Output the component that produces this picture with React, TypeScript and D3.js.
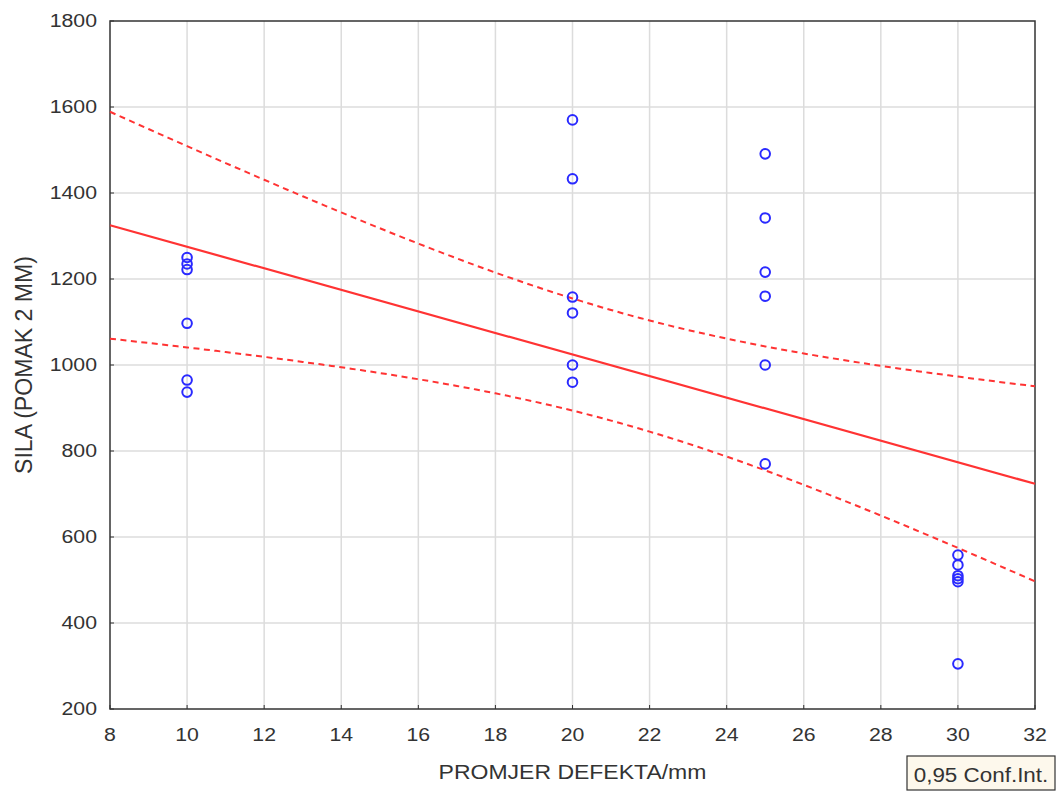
import React, { useRef, useEffect } from "react";
import * as d3 from "d3";

// measured points (defect diameter in mm, force at 2 mm displacement)
const diameters = [10, 20, 25, 30];
const forces10 = [1250, 1235, 1222, 1097, 965, 937];
const forces20 = [1570, 1433, 1158, 1121, 1000, 960];
const forces25 = [1491, 1342, 1216, 1160, 1000, 770];
const forces30 = [558, 535, 510, 503, 496, 305];

const xTicks = [8, 10, 12, 14, 16, 18, 20, 22, 24, 26, 28, 30, 32];
const yTicks = [200, 400, 600, 800, 1000, 1200, 1400, 1600, 1800];

const xTitle = "PROMJER DEFEKTA/mm";
const yTitle = "SILA (POMAK 2 MM)";
const legendText = "0,95 Conf.Int.";

const App = () => {
  const ref = useRef<SVGSVGElement>(null);

  useEffect(() => {
    document.body.style.margin = "0";
    const width = 1057, height = 791;
    const margin = { top: 21, right: 22, bottom: 82, left: 110 };
    const sx = 1.15; // text in the original is a bit wide

    const svg = d3.select(ref.current);
    svg.selectAll("*").remove();
    svg.attr("width", width).attr("height", height);

    const x = d3.scaleLinear().domain([8, 32]).range([margin.left, width - margin.right]);
    const y = d3.scaleLinear().domain([200, 1800]).range([height - margin.bottom, margin.top]);

    const groups = [forces10, forces20, forces25, forces30];
    const points: { x: number; y: number }[] = [];
    groups.forEach((g, i) => g.forEach(v => points.push({ x: diameters[i], y: v })));

    // linear fit + 95% confidence band for the mean
    const n = points.length;
    const mx = d3.mean(points, d => d.x)!;
    const my = d3.mean(points, d => d.y)!;
    const sxx = d3.sum(points, d => (d.x - mx) ** 2);
    const sxy = d3.sum(points, d => (d.x - mx) * (d.y - my));
    const b = sxy / sxx;
    const a = my - b * mx;
    const sse = d3.sum(points, d => (d.y - (a + b * d.x)) ** 2);
    const s = Math.sqrt(sse / (n - 2));
    const t = 2.074; // t(0.975, 22)
    const hw = (xv: number) => t * s * Math.sqrt(1 / n + (xv - mx) ** 2 / sxx);

    const xs = d3.range(8, 32.001, 0.25);
    const fit = (xv: number) => a + b * xv;

    const textColor = "#333";
    const font = "Liberation Sans, Arial, sans-serif";

    // grid
    svg.append("g")
      .selectAll("line")
      .data(xTicks.slice(1, -1))
      .join("line")
      .attr("x1", d => x(d)).attr("x2", d => x(d))
      .attr("y1", margin.top).attr("y2", height - margin.bottom)
      .attr("stroke", "#dcdcdc").attr("stroke-width", 1.5);
    svg.append("g")
      .selectAll("line")
      .data(yTicks.slice(1, -1))
      .join("line")
      .attr("x1", margin.left).attr("x2", width - margin.right)
      .attr("y1", d => y(d)).attr("y2", d => y(d))
      .attr("stroke", "#dcdcdc").attr("stroke-width", 1.5);

    // frame
    svg.append("rect")
      .attr("x", margin.left).attr("y", margin.top)
      .attr("width", width - margin.left - margin.right)
      .attr("height", height - margin.bottom - margin.top)
      .attr("fill", "none").attr("stroke", "#333").attr("stroke-width", 1.5);

    // inward ticks
    svg.append("g").selectAll("line").data(xTicks).join("line")
      .attr("x1", d => x(d)).attr("x2", d => x(d))
      .attr("y1", height - margin.bottom).attr("y2", height - margin.bottom - 4)
      .attr("stroke", "#333");
    svg.append("g").selectAll("line").data(yTicks).join("line")
      .attr("x1", margin.left).attr("x2", margin.left + 4)
      .attr("y1", d => y(d)).attr("y2", d => y(d))
      .attr("stroke", "#333");

    // tick labels
    svg.append("g").selectAll("text").data(xTicks).join("text")
      .attr("transform", d => `translate(${x(d)},${height - margin.bottom + 32}) scale(${sx},1)`)
      .attr("text-anchor", "middle")
      .attr("font-family", font).attr("font-size", 18.5).attr("fill", textColor)
      .text(d => d);
    svg.append("g").selectAll("text").data(yTicks).join("text")
      .attr("transform", d => `translate(${margin.left - 13},${y(d) + 6}) scale(${sx},1)`)
      .attr("text-anchor", "end")
      .attr("font-family", font).attr("font-size", 18.5).attr("fill", textColor)
      .text(d => d);

    // axis titles
    svg.append("text")
      .attr("transform", `translate(${(margin.left + width - margin.right) / 2},779) scale(${sx},1)`)
      .attr("text-anchor", "middle")
      .attr("font-family", font).attr("font-size", 20).attr("fill", textColor)
      .text(xTitle);
    svg.append("text")
      .attr("transform", `translate(32, ${(margin.top + height - margin.bottom) / 2}) scale(${sx},1) rotate(-90)`)
      .attr("text-anchor", "middle")
      .attr("font-family", font).attr("font-size", 20).attr("fill", textColor)
      .attr("textLength", 218).attr("lengthAdjust", "spacingAndGlyphs")
      .text(yTitle);

    const plot = svg.append("g");

    // confidence band
    const upper = d3.line<number>().x(d => x(d)).y(d => y(fit(d) + hw(d)));
    const lower = d3.line<number>().x(d => x(d)).y(d => y(fit(d) - hw(d)));
    [upper, lower].forEach(ln => {
      plot.append("path").attr("d", ln(xs))
        .attr("fill", "none").attr("stroke", "#ff3333").attr("stroke-width", 2)
        .attr("stroke-dasharray", "6,4.5");
    });

    // fit line
    plot.append("line")
      .attr("x1", x(8)).attr("y1", y(fit(8)))
      .attr("x2", x(32)).attr("y2", y(fit(32)))
      .attr("stroke", "#ff3333").attr("stroke-width", 2.2);

    // points
    plot.append("g").selectAll("circle").data(points).join("circle")
      .attr("cx", d => x(d.x)).attr("cy", d => y(d.y)).attr("r", 4.8)
      .attr("fill", "none").attr("stroke", "#2a2aff").attr("stroke-width", 2);

    // legend box
    const lg = svg.append("g").attr("transform", "translate(907, 756)");
    lg.append("rect").attr("width", 148).attr("height", 34)
      .attr("fill", "#fdf8ec").attr("stroke", "#333").attr("stroke-width", 1.2);
    lg.append("text")
      .attr("transform", `translate(74,26) scale(${sx},1)`)
      .attr("text-anchor", "middle")
      .attr("font-family", font).attr("font-size", 19.5).attr("fill", textColor)
      .text(legendText);
  }, []);

  return <svg ref={ref} style={{ display: "block" }} />;
};

export default App;
